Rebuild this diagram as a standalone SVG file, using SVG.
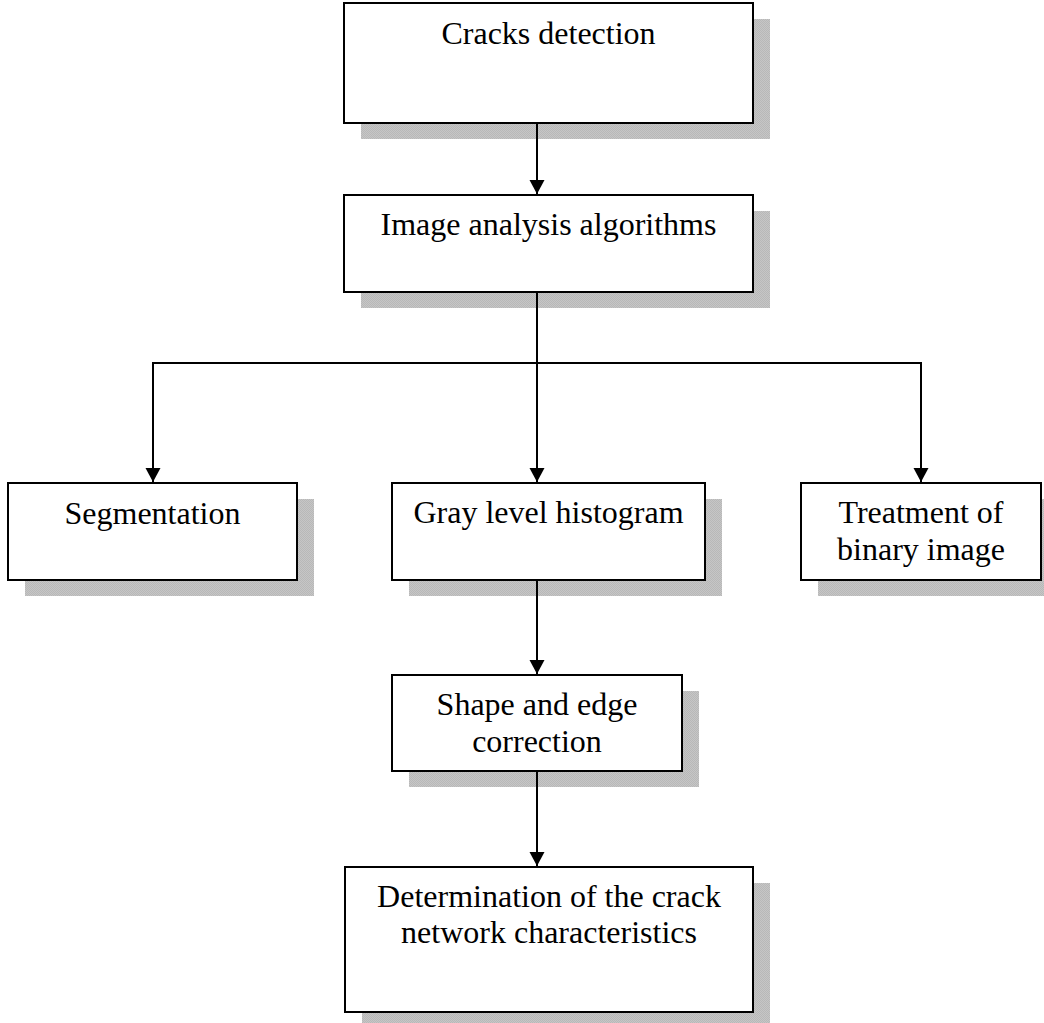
<svg xmlns="http://www.w3.org/2000/svg" width="1044" height="1023" viewBox="0 0 1044 1023">
<style>
.box{fill:#fff;stroke:#000;stroke-width:2}
.sh{fill:url(#hatch)}
.t{font-family:"Liberation Serif","Times New Roman",serif;font-size:32px;fill:#000;text-anchor:middle}
.c{fill:none;stroke:#000;stroke-width:2}
</style>
<defs>
<pattern id="hatch" width="2" height="2" patternUnits="userSpaceOnUse">
<rect width="2" height="2" fill="#c6c6c6"/>
<rect width="1" height="1" fill="#b8b8b8"/>
<rect x="1" y="1" width="1" height="1" fill="#b8b8b8"/>
</pattern>
<marker id="arr" markerUnits="userSpaceOnUse" markerWidth="16" markerHeight="16" refX="14" refY="7.5" orient="auto">
<path d="M0,0 L14,7.5 L0,15 z" fill="#000"/>
</marker>
</defs>
<rect width="1044" height="1023" fill="#fff"/>
<g id="n1">
<rect class="sh" x="361" y="19" width="409" height="120"/>
<rect class="box" x="344" y="3" width="409" height="120"/>
<text class="t" x="548.5" y="44">Cracks detection</text>
</g>
<g id="n2">
<rect class="sh" x="361" y="211" width="409" height="97"/>
<rect class="box" x="344" y="195" width="409" height="97"/>
<text class="t" x="548.5" y="235">Image analysis algorithms</text>
</g>
<g id="n3">
<rect class="sh" x="25" y="499" width="289" height="97"/>
<rect class="box" x="8" y="483" width="289" height="97"/>
<text class="t" x="152.5" y="524">Segmentation</text>
</g>
<g id="n4">
<rect class="sh" x="409" y="499" width="313" height="97"/>
<rect class="box" x="392" y="483" width="313" height="97"/>
<text class="t" x="548.5" y="523">Gray level histogram</text>
</g>
<g id="n5">
<rect class="sh" x="818" y="499" width="240" height="97"/>
<rect class="box" x="801" y="483" width="240" height="97"/>
<text class="t" x="921" y="523">Treatment of</text>
<text class="t" x="921" y="560">binary image</text>
</g>
<g id="n6">
<rect class="sh" x="409" y="691" width="290" height="96"/>
<rect class="box" x="392" y="675" width="290" height="96"/>
<text class="t" x="537" y="715">Shape and edge</text>
<text class="t" x="537" y="752">correction</text>
</g>
<g id="n7">
<rect class="sh" x="362" y="883" width="408" height="145"/>
<rect class="box" x="345" y="867" width="408" height="145"/>
<text class="t" x="549" y="907">Determination of the crack</text>
<text class="t" x="549" y="943">network characteristics</text>
</g>
<g id="connectors">
<path class="c" d="M537 123 V194" marker-end="url(#arr)"/>
<path class="c" d="M537 292 V482" marker-end="url(#arr)"/>
<path class="c" d="M537 363 H153 V482" marker-end="url(#arr)"/>
<path class="c" d="M537 363 H921 V482" marker-end="url(#arr)"/>
<path class="c" d="M537 580 V674" marker-end="url(#arr)"/>
<path class="c" d="M537 771 V866" marker-end="url(#arr)"/>
</g>
</svg>
